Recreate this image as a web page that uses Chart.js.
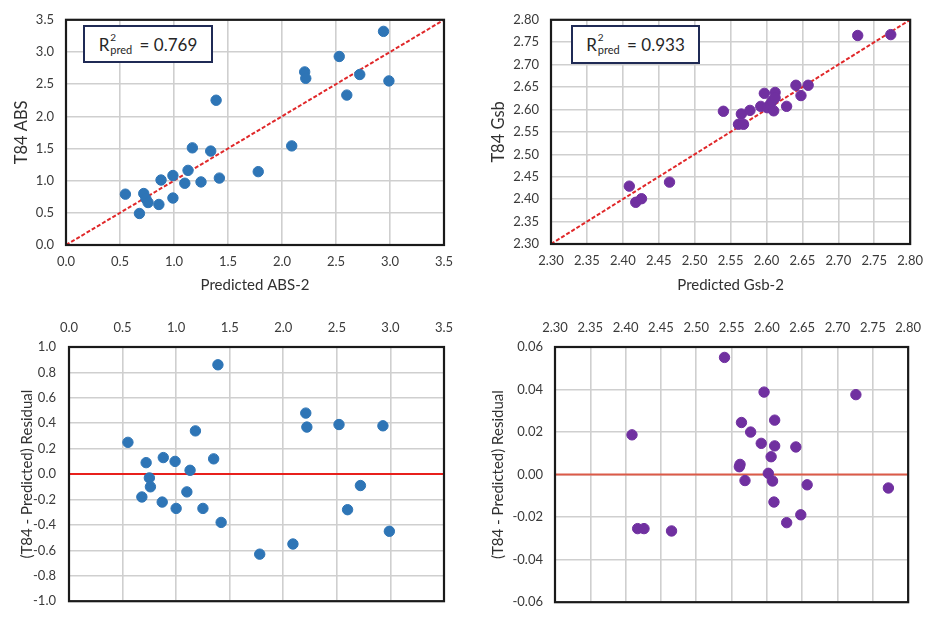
<!DOCTYPE html>
<html>
<head>
<meta charset="utf-8">
<script src="https://cdn.jsdelivr.net/npm/chart.js@4.4.0/dist/chart.umd.min.js"></script>
<style>
  body { margin: 0; background: #fff; width: 932px; height: 622px; position: relative; overflow: hidden; font-family: Lato, sans-serif; }
  .panel { position: absolute; }
  .rbox { position: absolute; box-sizing: border-box; border: 2px solid #1f2a55; background: #fff;
          font-family: Lato, sans-serif; font-size: 17px; color: #262626; display: flex; align-items: center; justify-content: center; }
  .ss { display: inline-flex; flex-direction: column; line-height: 1; margin: 0 3px 0 1px; position: relative; top: 2px; }
  .ss .sup { font-size: 10px; margin-top: -6px; }
  .ss .sub { font-size: 11px; margin-top: 2px; }
</style>
</head>
<body>
<div class="panel" style="left:0;top:0;width:466px;height:300px"><canvas id="absChart"></canvas></div>
<div class="panel" style="left:466px;top:0;width:466px;height:300px"><canvas id="gsbChart"></canvas></div>
<div class="panel" style="left:0;top:300px;width:466px;height:322px"><canvas id="absResChart"></canvas></div>
<div class="panel" style="left:466px;top:300px;width:466px;height:322px"><canvas id="gsbResChart"></canvas></div>
<div class="rbox" style="left:83px;top:25px;width:130px;height:38px">R<span class="ss"><span class="sup">2</span><span class="sub">pred</span></span>&nbsp;= 0.769</div>
<div class="rbox" style="left:571px;top:25px;width:129px;height:39px">R<span class="ss"><span class="sup">2</span><span class="sub">pred</span></span>&nbsp;= 0.933</div>
<script>
// ABS: predicted vs measured
const absPredicted = [0.55,0.68,0.72,0.74,0.76,0.86,0.88,0.99,0.99,1.10,1.13,1.17,1.25,1.34,1.39,1.42,1.78,2.09,2.21,2.22,2.53,2.60,2.72,2.94,2.99];
const absMeasured  = [0.79,0.49,0.80,0.72,0.66,0.63,1.01,1.08,0.73,0.96,1.16,1.51,0.98,1.46,2.25,1.04,1.14,1.54,2.69,2.59,2.93,2.33,2.65,3.32,2.55];
// ABS residuals
const absResX = [0.55,0.72,0.68,0.75,0.76,0.88,0.87,0.99,1.00,1.13,1.10,1.18,1.25,1.35,1.39,1.42,1.78,2.09,2.21,2.22,2.52,2.60,2.72,2.93,2.99];
const absResY = [0.25,0.09,-0.18,-0.03,-0.10,0.13,-0.22,0.10,-0.27,0.03,-0.14,0.34,-0.27,0.12,0.86,-0.38,-0.63,-0.55,0.48,0.37,0.39,-0.28,-0.09,0.38,-0.45];

// Gsb: predicted vs measured
const gsbPredicted = [2.409,2.418,2.426,2.465,2.540,2.561,2.565,2.568,2.577,2.592,2.597,2.601,2.605,2.608,2.610,2.612,2.612,2.628,2.641,2.648,2.658,2.727,2.773];
const gsbMeasured  = [2.429,2.393,2.401,2.438,2.596,2.567,2.590,2.567,2.598,2.607,2.636,2.604,2.611,2.619,2.597,2.638,2.626,2.607,2.654,2.631,2.654,2.765,2.767];
// Gsb residuals
const gsbResX = [2.409,2.417,2.426,2.465,2.540,2.561,2.562,2.564,2.569,2.577,2.592,2.596,2.602,2.606,2.608,2.610,2.611,2.611,2.628,2.641,2.648,2.657,2.726,2.772];
const gsbResY = [0.0187,-0.0254,-0.0254,-0.0265,0.0551,0.0037,0.0048,0.0245,-0.0028,0.0200,0.0147,0.0388,0.0006,0.0084,-0.0030,-0.0129,0.0135,0.0256,-0.0226,0.0130,-0.0189,-0.0048,0.0376,-0.0063];

// axis ranges
const absRange = [0, 3.5];
const gsbRange = [2.30, 2.80];
const absResRange = [-1.0, 1.0];
const gsbResRange = [-0.06, 0.06];

const pts = (xs, ys) => xs.map((x, i) => ({x: x, y: ys[i]}));

const frame = {
  id: 'frame',
  afterDatasetsDraw(chart) {
    const a = chart.chartArea, c = chart.ctx;
    c.save();
    c.strokeStyle = '#1a1a1a';
    c.lineWidth = 2.2;
    c.strokeRect(a.left, a.top, a.right - a.left, a.bottom - a.top);
    c.restore();
  }
};

function axis(o) {
  return {
    type: 'linear',
    position: o.position,
    min: o.range[0], max: o.range[1],
    border: {display: false},
    grid: {color: '#cfcfcf', lineWidth: 1.6, drawTicks: false},
    ticks: {
      stepSize: o.step, padding: o.pad, color: '#3a3a3a',
      font: {family: 'Lato', size: 13},
      callback: v => v.toFixed(o.dec)
    },
    title: o.title ? {display: true, text: o.title, color: '#303030', font: {family: 'Lato', size: o.tsize}, padding: o.titlePad} : {display: false},
    afterFit: s => { if (o.w) s.width = o.w; if (o.h) s.height = o.h; }
  };
}

function makeChart(id, cfg) {
  new Chart(document.getElementById(id), {
    type: 'scatter',
    data: {
      datasets: [{
        data: cfg.points,
        backgroundColor: cfg.color, borderColor: cfg.color,
        pointRadius: 5.2, order: 1
      }, {
        type: 'line',
        data: cfg.line,
        borderColor: cfg.lineColor, borderWidth: 2, borderDash: cfg.dash || [],
        pointRadius: 0, fill: false, order: 2
      }]
    },
    options: {
      responsive: true, maintainAspectRatio: false, animation: false,
      layout: {padding: cfg.padding},
      plugins: {legend: {display: false}, tooltip: {enabled: false}},
      scales: {x: cfg.x, y: cfg.y}
    },
    plugins: [frame]
  });
}

makeChart('absChart', {
  points: pts(absPredicted, absMeasured),
  color: '#2e75b6',
  line: [{x: absRange[0], y: absRange[0]}, {x: absRange[1], y: absRange[1]}],
  lineColor: '#e0282a', dash: [4, 2],
  padding: {top: 13, right: 22, left: 0, bottom: 0},
  x: axis({position: 'bottom', range: absRange, step: 0.5, dec: 1, pad: 9, h: 55, title: 'Predicted ABS-2', tsize: 15, titlePad: 6}),
  y: axis({position: 'left', range: absRange, step: 0.5, dec: 1, pad: 12, w: 66, title: 'T84 ABS', tsize: 16.5, titlePad: 12})
});

makeChart('gsbChart', {
  points: pts(gsbPredicted, gsbMeasured),
  color: '#7030a0',
  line: [{x: gsbRange[0], y: gsbRange[0]}, {x: gsbRange[1], y: gsbRange[1]}],
  lineColor: '#e0282a', dash: [4, 2],
  padding: {top: 13, right: 13, left: 0, bottom: 0},
  x: axis({position: 'bottom', range: gsbRange, step: 0.05, dec: 2, pad: 9, h: 56, title: 'Predicted Gsb-2', tsize: 15, titlePad: 6}),
  y: axis({position: 'left', range: gsbRange, step: 0.05, dec: 2, pad: 12, w: 85, title: 'T84 Gsb', tsize: 16.5, titlePad: 23})
});

makeChart('absResChart', {
  points: pts(absResX, absResY),
  color: '#2e75b6',
  line: [{x: absRange[0], y: 0}, {x: absRange[1], y: 0}],
  lineColor: '#e8201c',
  padding: {top: 0, right: 22, left: 0, bottom: 8},
  x: axis({position: 'top', range: absRange, step: 0.5, dec: 1, pad: 11, h: 47}),
  y: axis({position: 'left', range: absResRange, step: 0.2, dec: 1, pad: 13, w: 69, title: '(T84 - Predicted) Residual', tsize: 15, titlePad: 18})
});

makeChart('gsbResChart', {
  points: pts(gsbResX, gsbResY),
  color: '#7030a0',
  line: [{x: gsbRange[0], y: 0}, {x: gsbRange[1], y: 0}],
  lineColor: '#dc5a48',
  padding: {top: 0, right: 14, left: 0, bottom: 8},
  x: axis({position: 'top', range: gsbRange, step: 0.05, dec: 2, pad: 11, h: 47}),
  y: axis({position: 'left', range: gsbResRange, step: 0.02, dec: 2, pad: 12, w: 89, title: '(T84 - Predicted) Residual', tsize: 15, titlePad: 23})
});
</script>
</body>
</html>
